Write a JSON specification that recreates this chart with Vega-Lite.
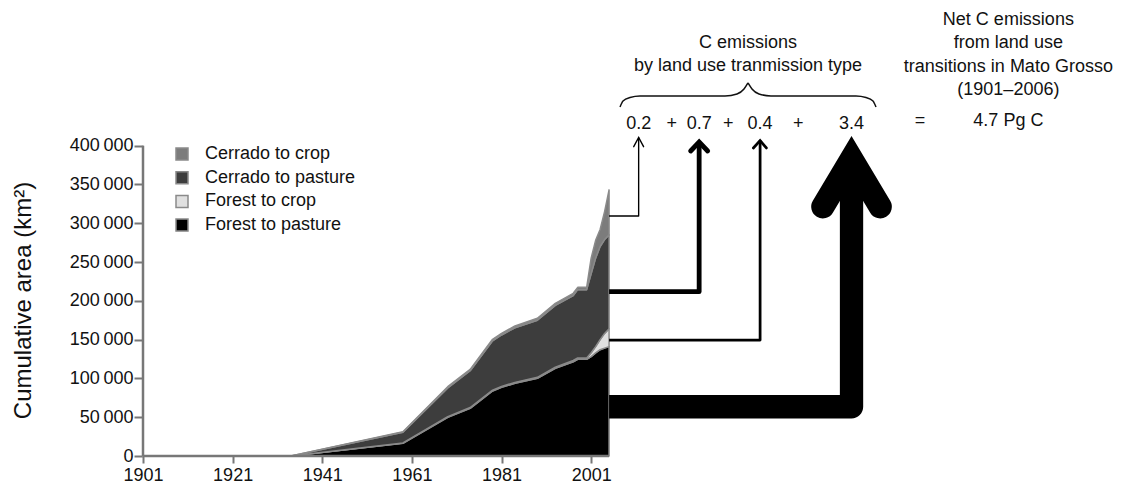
{
  "$schema": "https://vega.github.io/schema/vega-lite/v6.json",
  "autosize": {"type": "none"},
  "padding": {"left": 143, "top": 6, "right": 10, "bottom": 28},
  "width": 968,
  "height": 450,
  "config": {
    "view": {"stroke": null},
    "font": "Liberation Sans",
    "text": {"font": "Liberation Sans"}
  },
  "datasets": {
    "areas": [
      {"year": 1901, "type": "Forest to pasture", "value": 0},
      {"year": 1934, "type": "Forest to pasture", "value": 0},
      {"year": 1959, "type": "Forest to pasture", "value": 16400},
      {"year": 1969, "type": "Forest to pasture", "value": 49900},
      {"year": 1974, "type": "Forest to pasture", "value": 61500},
      {"year": 1979, "type": "Forest to pasture", "value": 83800},
      {"year": 1981, "type": "Forest to pasture", "value": 88500},
      {"year": 1984, "type": "Forest to pasture", "value": 93700},
      {"year": 1989, "type": "Forest to pasture", "value": 100100},
      {"year": 1993, "type": "Forest to pasture", "value": 113000},
      {"year": 1997, "type": "Forest to pasture", "value": 121500},
      {"year": 1998, "type": "Forest to pasture", "value": 124600},
      {"year": 2000, "type": "Forest to pasture", "value": 124600},
      {"year": 2001, "type": "Forest to pasture", "value": 128000},
      {"year": 2002, "type": "Forest to pasture", "value": 133000},
      {"year": 2003, "type": "Forest to pasture", "value": 137000},
      {"year": 2004, "type": "Forest to pasture", "value": 139000},
      {"year": 2005, "type": "Forest to pasture", "value": 141000},
      {"year": 1901, "type": "Forest to crop", "value": 0},
      {"year": 1934, "type": "Forest to crop", "value": 0},
      {"year": 1959, "type": "Forest to crop", "value": 500},
      {"year": 1969, "type": "Forest to crop", "value": 800},
      {"year": 1974, "type": "Forest to crop", "value": 1000},
      {"year": 1979, "type": "Forest to crop", "value": 1000},
      {"year": 1981, "type": "Forest to crop", "value": 1200},
      {"year": 1984, "type": "Forest to crop", "value": 1200},
      {"year": 1989, "type": "Forest to crop", "value": 1300},
      {"year": 1993, "type": "Forest to crop", "value": 1500},
      {"year": 1997, "type": "Forest to crop", "value": 1600},
      {"year": 1998, "type": "Forest to crop", "value": 1700},
      {"year": 2000, "type": "Forest to crop", "value": 1800},
      {"year": 2001, "type": "Forest to crop", "value": 5000},
      {"year": 2002, "type": "Forest to crop", "value": 8000},
      {"year": 2003, "type": "Forest to crop", "value": 13000},
      {"year": 2004, "type": "Forest to crop", "value": 19000},
      {"year": 2005, "type": "Forest to crop", "value": 23000},
      {"year": 1901, "type": "Cerrado to pasture", "value": 0},
      {"year": 1934, "type": "Cerrado to pasture", "value": 0},
      {"year": 1959, "type": "Cerrado to pasture", "value": 13600},
      {"year": 1969, "type": "Cerrado to pasture", "value": 37100},
      {"year": 1974, "type": "Cerrado to pasture", "value": 47400},
      {"year": 1979, "type": "Cerrado to pasture", "value": 63600},
      {"year": 1981, "type": "Cerrado to pasture", "value": 66300},
      {"year": 1984, "type": "Cerrado to pasture", "value": 70400},
      {"year": 1989, "type": "Cerrado to pasture", "value": 73600},
      {"year": 1993, "type": "Cerrado to pasture", "value": 79600},
      {"year": 1997, "type": "Cerrado to pasture", "value": 83700},
      {"year": 1998, "type": "Cerrado to pasture", "value": 88100},
      {"year": 2000, "type": "Cerrado to pasture", "value": 88000},
      {"year": 2001, "type": "Cerrado to pasture", "value": 102000},
      {"year": 2002, "type": "Cerrado to pasture", "value": 114000},
      {"year": 2003, "type": "Cerrado to pasture", "value": 120000},
      {"year": 2004, "type": "Cerrado to pasture", "value": 121000},
      {"year": 2005, "type": "Cerrado to pasture", "value": 121000},
      {"year": 1901, "type": "Cerrado to crop", "value": 0},
      {"year": 1934, "type": "Cerrado to crop", "value": 0},
      {"year": 1959, "type": "Cerrado to crop", "value": 800},
      {"year": 1969, "type": "Cerrado to crop", "value": 1500},
      {"year": 1974, "type": "Cerrado to crop", "value": 1800},
      {"year": 1979, "type": "Cerrado to crop", "value": 2000},
      {"year": 1981, "type": "Cerrado to crop", "value": 2100},
      {"year": 1984, "type": "Cerrado to crop", "value": 2300},
      {"year": 1989, "type": "Cerrado to crop", "value": 2500},
      {"year": 1993, "type": "Cerrado to crop", "value": 2700},
      {"year": 1997, "type": "Cerrado to crop", "value": 2900},
      {"year": 1998, "type": "Cerrado to crop", "value": 3000},
      {"year": 2000, "type": "Cerrado to crop", "value": 3000},
      {"year": 2001, "type": "Cerrado to crop", "value": 20000},
      {"year": 2002, "type": "Cerrado to crop", "value": 23000},
      {"year": 2003, "type": "Cerrado to crop", "value": 22000},
      {"year": 2004, "type": "Cerrado to crop", "value": 36000},
      {"year": 2005, "type": "Cerrado to crop", "value": 58000}
    ],
    "axislines": [
      {"year": 1901, "value": 0, "year_end": 1901, "value_end": 400000},
      {"year": 1901, "value": 0, "year_end": 2005, "value_end": 0}
    ],
    "connectors": [
      {"flow": "Cerrado to crop", "emission": 0.2, "seq": 0, "year": 2005, "value": 309300},
      {"flow": "Cerrado to crop", "emission": 0.2, "seq": 1, "year": 2011.6, "value": 309300},
      {"flow": "Cerrado to crop", "emission": 0.2, "seq": 2, "year": 2011.6, "value": 410500},
      {"flow": "Cerrado to pasture", "emission": 0.7, "seq": 0, "year": 2005, "value": 211800},
      {"flow": "Cerrado to pasture", "emission": 0.7, "seq": 1, "year": 2025.1, "value": 211800},
      {"flow": "Cerrado to pasture", "emission": 0.7, "seq": 2, "year": 2025.1, "value": 404700},
      {"flow": "Forest to crop", "emission": 0.4, "seq": 0, "year": 2005, "value": 149500},
      {"flow": "Forest to crop", "emission": 0.4, "seq": 1, "year": 2038.7, "value": 149500},
      {"flow": "Forest to crop", "emission": 0.4, "seq": 2, "year": 2038.7, "value": 406600},
      {"flow": "Forest to pasture", "emission": 3.4, "seq": 0, "year": 2005, "value": 63500},
      {"flow": "Forest to pasture", "emission": 3.4, "seq": 1, "year": 2059.1, "value": 63500},
      {"flow": "Forest to pasture", "emission": 3.4, "seq": 2, "year": 2059.1, "value": 383100}
    ],
    "heads": [
      {"flow": "Cerrado to crop", "emission": 0.2, "seq": 0, "year": 2010.5, "value": 398700},
      {"flow": "Cerrado to crop", "emission": 0.2, "seq": 1, "year": 2011.6, "value": 410500},
      {"flow": "Cerrado to crop", "emission": 0.2, "seq": 2, "year": 2012.7, "value": 398700},
      {"flow": "Cerrado to pasture", "emission": 0.7, "seq": 0, "year": 2023.2, "value": 393100},
      {"flow": "Cerrado to pasture", "emission": 0.7, "seq": 1, "year": 2025.1, "value": 404700},
      {"flow": "Cerrado to pasture", "emission": 0.7, "seq": 2, "year": 2027.0, "value": 393100},
      {"flow": "Forest to crop", "emission": 0.4, "seq": 0, "year": 2037.2, "value": 397000},
      {"flow": "Forest to crop", "emission": 0.4, "seq": 1, "year": 2038.7, "value": 406600},
      {"flow": "Forest to crop", "emission": 0.4, "seq": 2, "year": 2040.1, "value": 397000},
      {"flow": "Forest to pasture", "emission": 3.4, "seq": 0, "year": 2052.7, "value": 321300},
      {"flow": "Forest to pasture", "emission": 3.4, "seq": 1, "year": 2059.1, "value": 383100},
      {"flow": "Forest to pasture", "emission": 3.4, "seq": 2, "year": 2065.5, "value": 321300}
    ],
    "brace": [
      {"side": "left", "seq": 0, "year": 2007.44, "value": 449800},
      {"side": "left", "seq": 1, "year": 2008.11, "value": 457600},
      {"side": "left", "seq": 2, "year": 2009.67, "value": 462100},
      {"side": "left", "seq": 3, "year": 2011.9, "value": 464000},
      {"side": "left", "seq": 4, "year": 2030.87, "value": 464000},
      {"side": "left", "seq": 5, "year": 2033.55, "value": 466600},
      {"side": "left", "seq": 6, "year": 2035.11, "value": 473000},
      {"side": "left", "seq": 7, "year": 2036.0, "value": 480800},
      {"side": "right", "seq": 0, "year": 2036.0, "value": 480800},
      {"side": "right", "seq": 1, "year": 2036.89, "value": 473000},
      {"side": "right", "seq": 2, "year": 2038.45, "value": 466600},
      {"side": "right", "seq": 3, "year": 2041.13, "value": 464000},
      {"side": "right", "seq": 4, "year": 2060.1, "value": 464000},
      {"side": "right", "seq": 5, "year": 2062.33, "value": 462100},
      {"side": "right", "seq": 6, "year": 2063.89, "value": 457600},
      {"side": "right", "seq": 7, "year": 2064.56, "value": 449800}
    ],
    "labels": [
      {"text": "C emissions", "year": 2036.0, "value": 525900},
      {"text": "by land use tranmission type", "year": 2036.0, "value": 495600},
      {"text": "0.2", "year": 2011.6, "value": 421500},
      {"text": "+", "year": 2019.0, "value": 421500},
      {"text": "0.7", "year": 2025.1, "value": 421500},
      {"text": "+", "year": 2031.6, "value": 421500},
      {"text": "0.4", "year": 2038.7, "value": 421500},
      {"text": "+", "year": 2047.2, "value": 421500},
      {"text": "3.4", "year": 2059.1, "value": 421500},
      {"text": "=", "year": 2074.4, "value": 425300},
      {"text": "4.7 Pg C", "year": 2094.1, "value": 425300},
      {"text": "Net C emissions", "year": 2094.1, "value": 555500},
      {"text": "from land use", "year": 2094.1, "value": 525500},
      {"text": "transitions in Mato Grosso", "year": 2094.1, "value": 495300},
      {"text": "(1901–2006)", "year": 2094.1, "value": 465300}
    ]
  },
  "encoding": {
    "x": {
      "field": "year", "type": "quantitative",
      "scale": {"domain": [1901, 2117], "nice": false, "zero": false},
      "axis": {
        "values": [1901, 1921, 1941, 1961, 1981, 2001], "format": "d", "title": null,
        "domain": false, "grid": false, "tickSize": 7, "tickColor": "#777777", "tickWidth": 2,
        "labelFontSize": 18, "labelPadding": 3, "labelColor": "#111111", "labelFlush": false, "labelOverlap": false
      }
    },
    "y": {
      "field": "value", "type": "quantitative",
      "scale": {"domain": [0, 580000], "nice": false},
      "axis": {
        "values": [0, 50000, 100000, 150000, 200000, 250000, 300000, 350000, 400000],
        "labelExpr": "replace(format(datum.value, ','), ',', '\u2009')",
        "title": "Cumulative area (km²)", "titleFontSize": 24, "titleFontWeight": "normal",
        "titleColor": "#111111", "titlePadding": 34, "titleY": 294,
        "domain": false, "grid": false, "tickSize": 9, "tickColor": "#777777", "tickWidth": 2,
        "labelFontSize": 18, "labelPadding": 1, "labelColor": "#111111", "labelFlush": false, "labelOverlap": false
      }
    }
  },
  "layer": [
    {
      "data": {"name": "areas"},
      "mark": {"type": "area", "stroke": "#8a8a8a", "strokeWidth": 1.5, "strokeJoin": "round"},
      "encoding": {
        "color": {
          "field": "type", "type": "nominal",
          "scale": {
            "domain": ["Cerrado to crop", "Cerrado to pasture", "Forest to crop", "Forest to pasture"],
            "range": ["#7c7c7c", "#3d3d3d", "#e0e0e0", "#000000"]
          },
          "legend": {
            "title": null, "orient": "none", "legendX": 30, "legendY": 139,
            "symbolType": "square", "symbolSize": 144, "symbolStrokeColor": "#8a8a8a", "symbolStrokeWidth": 1.5,
            "symbolOpacity": 1, "labelFontSize": 18, "labelColor": "#111111", "labelOffset": 14, "rowPadding": 5.7,
            "padding": 0
          }
        },
        "order": {"field": "type", "sort": "descending"}
      }
    },
    {
      "data": {"name": "axislines"},
      "mark": {"type": "rule", "color": "#777777", "strokeWidth": 2.5},
      "encoding": {
        "x2": {"field": "year_end"},
        "y2": {"field": "value_end"}
      }
    },
    {
      "data": {"name": "connectors"},
      "mark": {"type": "line", "color": "#000000", "strokeJoin": "round", "strokeCap": "butt"},
      "encoding": {
        "detail": {"field": "flow"},
        "order": {"field": "seq"},
        "strokeWidth": {"field": "emission", "type": "quantitative", "scale": {"domain": [0, 3.4], "range": [0, 23.3]}, "legend": null}
      }
    },
    {
      "data": {"name": "heads"},
      "mark": {"type": "line", "color": "#000000", "strokeJoin": "miter", "strokeCap": "round", "strokeMiterLimit": 10},
      "encoding": {
        "detail": {"field": "flow"},
        "order": {"field": "seq"},
        "strokeWidth": {"field": "emission", "type": "quantitative", "scale": {"domain": [0, 3.4], "range": [0, 23.3]}, "legend": null}
      }
    },
    {
      "data": {"name": "brace"},
      "mark": {"type": "line", "color": "#111111", "strokeWidth": 1.5, "interpolate": "monotone"},
      "encoding": {
        "detail": {"field": "side"},
        "order": {"field": "seq"}
      }
    },
    {
      "data": {"name": "labels"},
      "mark": {"type": "text", "fontSize": 18, "align": "center", "baseline": "alphabetic", "color": "#111111"},
      "encoding": {
        "text": {"field": "text"}
      }
    }
  ]
}
